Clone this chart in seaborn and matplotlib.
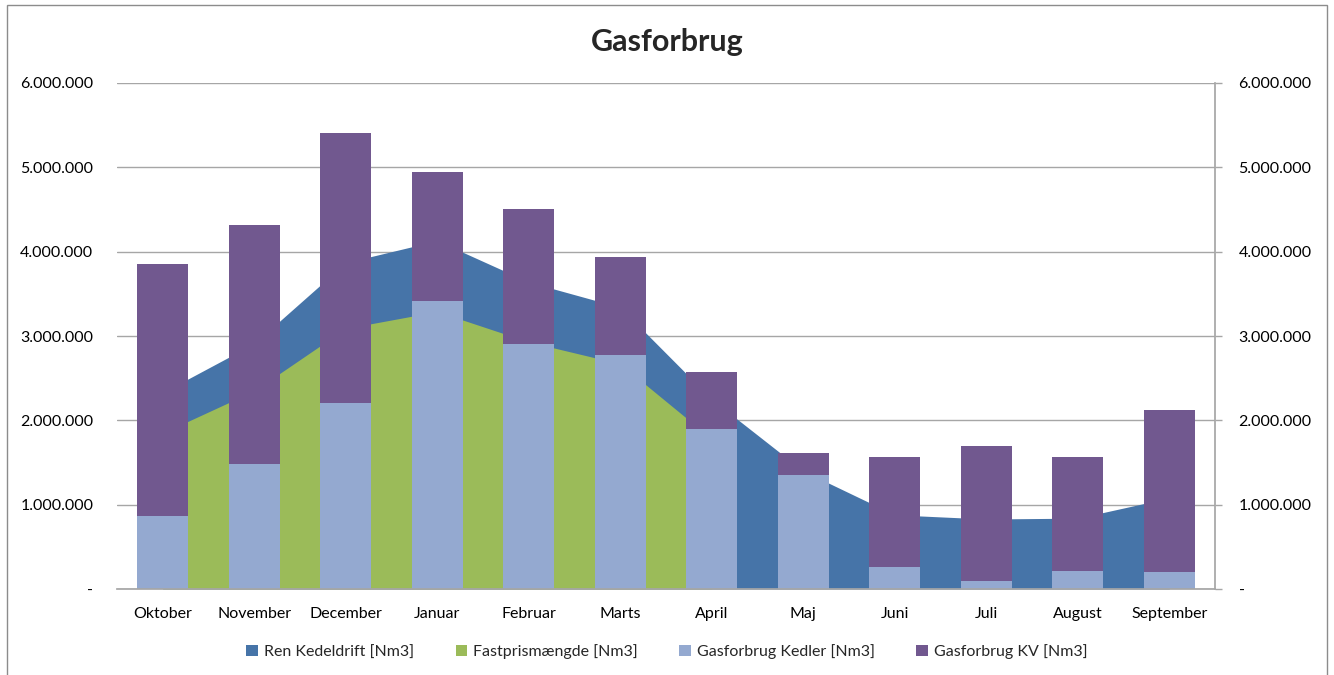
import numpy as np
import pandas as pd
import matplotlib
matplotlib.use("Agg")
import matplotlib.pyplot as plt
from matplotlib.patches import Patch, Rectangle
from matplotlib.ticker import FuncFormatter
import seaborn as sns

# ----------------------------------------------------------
# Data (Nm3)
# ----------------------------------------------------------
months = ["Oktober", "November", "December", "Januar", "Februar", "Marts",
          "April", "Maj", "Juni", "Juli", "August", "September"]

ren_kedeldrift = [2330000, 2910000, 3870000, 4130000, 3640000, 3340000,
                  2250000, 1400000, 880000, 830000, 840000, 1080000]
fastpris = [1850000, 2350000, 3090000, 3290000, 2930000, 2670000, 1780000]
kedler = [860000, 1480000, 2200000, 3410000, 2910000, 2780000,
          1900000, 1350000, 260000, 90000, 210000, 200000]
kv = [2990000, 2840000, 3210000, 1530000, 1590000, 1160000,
      670000, 260000, 1300000, 1600000, 1350000, 1920000]

series_names = ["Ren Kedeldrift [Nm3]", "Fastprismængde [Nm3]",
                "Gasforbrug Kedler [Nm3]", "Gasforbrug KV [Nm3]"]

c_blue = "#4674A8"
c_green = "#9BBB59"
c_light = "#94A9D0"
c_purple = "#71588F"
c_grid = "#A6A6A6"

df = pd.DataFrame({"Maaned": months, "Kedler": kedler, "KV": kv})
df["Total"] = df["Kedler"] + df["KV"]

sns.set_theme(style="white")
plt.rcParams["font.family"] = ["Lato", "DejaVu Sans"]

fig = plt.figure(figsize=(13.34, 6.75), dpi=100)
ax = fig.add_axes([117 / 1334, 1 - 589 / 675, (1215 - 117) / 1334, (589 - 83) / 675])

# areas behind the bars
ax.fill_between(range(len(ren_kedeldrift)), ren_kedeldrift, color=c_blue, lw=0, zorder=1)
ax.fill_between(range(len(fastpris)), fastpris, color=c_green, lw=0, zorder=2)

# stacked bars: total first, kedler on top
sns.barplot(data=df, x="Maaned", y="Total", color=c_purple, width=0.56,
            saturation=1, ax=ax, zorder=3)
sns.barplot(data=df, x="Maaned", y="Kedler", color=c_light, width=0.56,
            saturation=1, ax=ax, zorder=4)
for p in ax.patches:
    p.set_edgecolor("none")

ax.set_xlim(-0.5, len(months) - 0.5)
ax.set_ylim(0, 6000000)
ax.set_xlabel("")
ax.set_ylabel("")

def fmt(v, pos):
    if v == 0:
        return "-"
    return f"{int(v):,}".replace(",", ".")

fs = 11.5
yt = np.arange(0, 6000001, 1000000)
ax.set_yticks(yt)
ax.yaxis.set_major_formatter(FuncFormatter(fmt))
ax.tick_params(axis="y", length=0, pad=17, labelsize=fs, colors="black")
ax.tick_params(axis="x", length=0, pad=13, labelsize=fs, colors="black")
for v in yt:
    ax.axhline(v, color=c_grid, lw=1, zorder=0)

for s in ["left", "top", "right"]:
    ax.spines[s].set_visible(False)
ax.spines["bottom"].set_color(c_grid)
ax.spines["bottom"].set_zorder(5)

# right axis, same scale
ax2 = ax.twinx()
ax2.set_ylim(0, 6000000)
ax2.set_yticks(yt)
ax2.yaxis.set_major_formatter(FuncFormatter(fmt))
ax2.tick_params(axis="y", length=5, width=1, pad=12, labelsize=fs, colors="black")
ax2.tick_params(axis="y", color=c_grid)
for s in ["left", "top", "bottom"]:
    ax2.spines[s].set_visible(False)
ax2.spines["right"].set_color(c_grid)
ax2.grid(False)

fig.text(0.5, 1 - 42 / 675, "Gasforbrug", ha="center", va="center",
         fontsize=22, fontweight="bold")

handles = [Patch(facecolor=c, edgecolor="none") for c in [c_blue, c_green, c_light, c_purple]]
fig.legend(handles, series_names, loc="center", bbox_to_anchor=(0.5, 1 - 652 / 675),
           ncol=4, frameon=False, fontsize=fs, handlelength=0.7, handleheight=0.7,
           handletextpad=0.4, columnspacing=2.6)

fig.add_artist(Rectangle((7 / 1334, -0.01), (1327 - 7) / 1334, 1 - 5 / 675 + 0.01,
                         transform=fig.transFigure, fill=False,
                         edgecolor="#8C8C8C", lw=1))

fig.savefig("out.png", dpi=100)
